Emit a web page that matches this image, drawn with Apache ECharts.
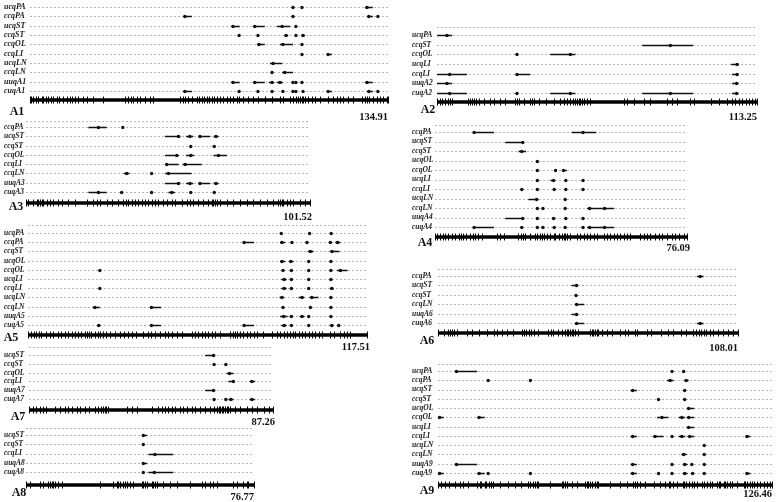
<!DOCTYPE html>
<html><head><meta charset="utf-8">
<script src="https://cdn.jsdelivr.net/npm/echarts@6/dist/echarts.min.js"></script>
<style>html,body{margin:0;padding:0;background:#fff}#c{width:778px;height:502px}</style>
</head><body><div id="c"></div>
<script>
// ---------------- DATA (cM) ----------------
const A1_length = 134.91;
const A1_rows = ['ucqPA','ccqPA','ucqST','ccqST','ccqOL','ccqLI','ucqLN','ccqLN','uuqA1','cuqA1'];
// [trait, start, peak, end]
const A1_qtl = [
 ['ucqPA',99.1,99.1,99.1],['ucqPA',102.5,102.5,102.5],['ucqPA',126.2,127.0,129.2],
 ['ccqPA',57.7,58.4,61.0],['ccqPA',99.1,99.1,99.1],['ccqPA',127.0,127.7,129.2],['ccqPA',131.1,131.1,131.1],
 ['ucqST',76.0,76.5,79.0],['ucqST',84.0,84.7,88.5],['ucqST',93.0,95.0,98.0],['ucqST',100.2,100.2,100.2],
 ['ccqST',78.8,78.8,78.8],['ccqST',85.9,85.9,85.9],['ccqST',95.8,96.5,97.3],['ccqST',100.2,100.2,100.2],['ccqST',102.2,102.9,103.6],
 ['ccqOL',85.5,86.3,88.5],['ccqOL',94.2,95.3,99.1],['ccqOL',102.5,102.5,102.5],
 ['ccqLI',102.5,102.5,102.5],['ccqLI',112.3,112.3,113.8],
 ['ucqLN',90.4,91.6,95.0],
 ['ccqLN',91.2,91.2,91.2],['ccqLN',95.0,96.0,99.1],
 ['uuqA1',76.0,76.5,79.0],['uuqA1',84.0,84.7,88.5],['uuqA1',90.0,91.2,92.0],['uuqA1',93.0,94.2,95.3],['uuqA1',99.1,99.1,99.1],['uuqA1',100.2,100.2,100.2],['uuqA1',102.5,102.5,102.5],['uuqA1',126.2,127.0,129.2],
 ['cuqA1',57.7,58.4,61.0],['cuqA1',78.8,78.8,78.8],['cuqA1',85.9,85.9,85.9],['cuqA1',91.2,91.2,91.2],['cuqA1',95.3,95.3,95.3],['cuqA1',99.1,99.1,99.1],['cuqA1',100.2,100.2,100.2],['cuqA1',102.9,102.9,102.9],['cuqA1',112.3,112.3,113.8],['cuqA1',127.0,127.7,129.2],['cuqA1',131.1,131.1,131.1]
];
const A1_markers = [0,0.3,1.3,2.3,3.1,4.4,5.0,6.0,6.9,7.8,8.8,10.1,11.1,12.6,13.8,15.1,15.7,17.0,18.2,19.8,21.4,23.6,27.6,35.8,37.1,38.1,38.9,40.2,41.5,43.3,45.2,46.5,56.5,57.5,58.4,59.7,60.9,62.8,63.8,64.7,65.6,66.6,67.6,68.5,69.3,70.4,71.6,72.9,74.1,75.4,76.6,77.9,78.9,80.4,82.3,84.2,85.8,88.6,91.1,94.2,95.5,98.0,99.2,100.3,101.1,101.8,102.4,103.0,103.6,104.9,106.2,107.4,109.3,112.4,114.3,115.6,116.8,118.1,120.0,121.9,125.0,126.3,126.9,127.9,129.4,130.7,131.9,133.2,134.4,134.91];

const A2_length = 113.25;
const A2_rows = ['ucqPA','ccqST','ccqOL','ucqLI','ccqLI','uuqA2','cuqA2'];
const A2_qtl = [
 ['ucqPA',0,3.5,5.3],
 ['ccqST',72.6,82.6,90.6],
 ['ccqOL',28.3,28.3,28.3],['ccqOL',40.1,47.2,49.0],
 ['ucqLI',104.1,106.2,106.8],
 ['ccqLI',0,4.5,10.6],['ccqLI',28.1,28.3,33.0],['ccqLI',104.4,106.2,106.8],
 ['uuqA2',0,3.5,5.3],['uuqA2',104.4,106.0,106.8],
 ['cuqA2',0,4.5,10.6],['cuqA2',28.3,28.3,28.3],['cuqA2',40.1,47.2,49.0],['cuqA2',72.6,82.6,90.6],['cuqA2',104.4,106.0,106.8]
];
const A2_markers = [0,0.9,1.8,3.0,3.8,4.5,5.3,10.9,11.6,12.4,13.2,13.9,14.8,16.5,18.9,20.1,22.4,24.2,27.7,28.3,28.9,30.7,33.0,33.6,34.2,36.0,38.4,41.3,43.7,44.8,46.0,47.2,48.1,49.0,49.6,50.2,50.7,51.3,51.9,53.1,54.3,66.1,67.3,69.6,73.2,75.5,81.4,83.2,85.0,89.7,90.9,96.8,99.7,102.7,104.4,105.6,106.8,108.0,109.2,110.3,111.5,112.5,113.25];

const A3_length = 101.52;
const A3_rows = ['ccqPA','ucqST','ccqST','ccqOL','ccqLI','ccqLN','uuqA3','cuqA3'];
const A3_qtl = [
 ['ccqPA',22.3,25.9,28.8],['ccqPA',34.6,34.6,34.6],
 ['ucqST',49.7,54.5,55.2],['ucqST',57.2,58.6,59.8],['ucqST',61.6,62.2,65.8],['ucqST',67.0,67.9,68.8],
 ['ccqST',58.9,58.9,58.9],['ccqST',67.3,67.3,67.3],
 ['ccqOL',49.7,53.9,54.5],['ccqOL',57.2,58.9,60.1],['ccqOL',67.0,68.8,71.8],
 ['ccqLI',49.7,50.3,54.5],['ccqLI',56.0,56.9,62.8],
 ['ccqLN',35.0,36.0,37.0],['ccqLN',44.9,44.9,44.9],['ccqLN',49.7,50.9,59.2],
 ['uuqA3',49.7,54.5,55.2],['uuqA3',57.2,58.6,59.8],['uuqA3',61.6,62.2,65.8],['uuqA3',67.0,67.9,68.8],
 ['cuqA3',22.3,25.9,28.8],['cuqA3',34.2,34.2,34.2],['cuqA3',44.9,44.9,44.9],['cuqA3',50.9,52.1,53.3],['cuqA3',58.9,58.9,58.9],['cuqA3',67.3,67.3,67.3]
];
const A3_markers = [0,0.8,2.6,3.8,4.4,5.0,5.6,6.2,7.4,8.6,9.8,11.6,12.8,15.1,17.5,21.7,24.1,25.3,26.5,28.8,30.6,33.0,34.8,35.8,36.6,37.8,39.0,40.2,41.4,42.6,43.7,44.9,46.1,47.3,49.1,50.3,52.1,53.3,55.7,57.5,58.6,59.8,61.6,63.4,65.2,66.4,67.0,67.6,68.2,69.4,71.8,74.1,76.5,78.9,81.3,83.7,86.1,88.4,90.2,90.8,91.4,92.0,93.2,94.4,95.6,98.0,99.8,101.52];

const A4_length = 76.09;
const A4_rows = ['ccqPA','ucqST','ccqST','ucqOL','ccqOL','ucqLI','ccqLI','ucqLN','ccqLN','uuqA4','cuqA4'];
const A4_qtl = [
 ['ccqPA',11.6,11.8,17.8],['ccqPA',41.3,44.7,48.6],
 ['ucqST',21.2,26.5,26.7],
 ['ccqST',25.2,26.2,27.5],
 ['ucqOL',30.9,30.9,30.9],
 ['ccqOL',30.9,30.9,30.9],['ccqOL',36.4,36.4,36.4],['ccqOL',38.3,38.8,39.8],
 ['ucqLI',30.9,30.9,30.9],['ucqLI',34.8,35.8,36.3],['ucqLI',39.5,39.5,39.5],['ucqLI',44.7,44.7,44.7],
 ['ccqLI',26.2,26.2,26.2],['ccqLI',30.9,30.9,30.9],['ccqLI',36.0,36.0,36.0],['ccqLI',39.5,39.5,39.5],['ccqLI',44.7,44.7,44.7],
 ['ucqLN',28.2,30.7,31.2],['ucqLN',39.3,39.3,39.3],
 ['ccqLN',30.9,30.9,30.9],['ccqLN',32.6,32.6,32.6],['ccqLN',39.3,39.3,39.3],['ccqLN',45.9,46.7,54.1],['ccqLN',51.2,51.2,51.2],
 ['uuqA4',21.2,26.5,26.7],['uuqA4',30.9,30.9,30.9],['uuqA4',35.3,35.8,36.3],['uuqA4',39.5,39.5,39.5],['uuqA4',44.7,44.7,44.7],
 ['cuqA4',11.6,11.8,17.8],['cuqA4',26.2,26.2,26.2],['cuqA4',30.9,30.9,30.9],['cuqA4',32.6,32.6,32.6],['cuqA4',36.0,36.0,36.0],['cuqA4',39.3,39.3,39.3],['cuqA4',44.7,44.7,44.7],['cuqA4',45.9,46.7,54.1],['cuqA4',51.2,51.2,51.2]
];
const A4_markers = [0,0.7,1.5,2.3,3.0,4.0,5.0,6.0,7.1,7.8,8.6,9.4,10.6,11.6,12.1,13.1,14.1,18.6,19.7,20.7,25.2,26.0,26.5,27.2,28.7,30.2,30.9,31.6,32.3,32.8,33.8,34.8,35.8,36.3,37.3,38.3,38.8,39.3,39.8,40.8,42.8,43.8,44.9,45.9,46.9,47.9,48.9,50.9,51.9,52.9,53.9,54.9,55.9,57.0,58.0,59.0,62.0,63.0,64.0,65.0,66.5,67.5,68.5,70.1,71.6,72.6,73.6,75.1,76.09];

const A5_length = 117.51;
const A5_rows = ['ucqPA','ccqPA','ccqST','ucqOL','ccqOL','ucqLI','ccqLI','ucqLN','ccqLN','uuqA5','cuqA5'];
const A5_qtl = [
 ['ucqPA',87.8,87.8,87.8],['ucqPA',97.6,97.6,97.6],['ucqPA',105.1,105.1,105.1],
 ['ccqPA',74.5,74.9,78.4],['ccqPA',87.4,88.0,89.2],['ccqPA',91.5,91.5,91.5],['ccqPA',96.7,96.7,96.7],['ccqPA',104.8,104.8,104.8],['ccqPA',106.5,107.3,108.3],
 ['ccqST',96.9,97.9,99.0],['ccqST',104.6,105.4,108.0],
 ['ucqOL',87.4,88.0,89.2],['ucqOL',90.4,91.1,92.1],['ucqOL',97.3,97.3,97.3],['ucqOL',105.0,105.0,105.0],
 ['ccqOL',24.9,24.9,24.9],['ccqOL',88.4,88.4,88.4],['ccqOL',91.3,91.3,91.3],['ccqOL',97.3,97.3,97.3],['ccqOL',105.0,105.0,105.0],['ccqOL',107.1,108.3,110.8],
 ['ucqLI',87.8,88.8,89.7],['ucqLI',91.3,91.3,91.3],['ucqLI',97.3,97.3,97.3],['ucqLI',105.0,105.0,105.0],
 ['ccqLI',24.9,24.9,24.9],['ccqLI',87.8,88.8,89.7],['ccqLI',91.3,91.3,91.3],['ccqLI',97.3,97.3,97.3],['ccqLI',104.6,105.3,106.0],
 ['ucqLN',87.2,88.0,88.8],['ucqLN',93.8,95.0,95.8],['ucqLN',97.6,98.4,100.7],['ucqLN',105.0,105.0,105.0],
 ['ccqLN',22.4,23.2,24.9],['ccqLN',42.3,42.8,46.1],['ccqLN',88.4,88.4,88.4],['ccqLN',97.9,97.9,97.9],['ccqLN',105.0,105.0,105.0],
 ['uuqA5',87.4,88.6,90.0],['uuqA5',91.3,91.3,91.3],['uuqA5',94.1,95.0,95.8],['uuqA5',97.3,97.3,97.3],['uuqA5',105.0,105.0,105.0],
 ['cuqA5',24.0,24.5,25.1],['cuqA5',42.3,42.8,46.1],['cuqA5',74.5,74.9,78.4],['cuqA5',87.8,88.8,89.7],['cuqA5',91.3,91.3,91.3],['cuqA5',97.3,97.3,97.3],['cuqA5',104.6,105.3,106.0],['cuqA5',107.7,107.7,107.7]
];
const A5_markers = [0,1.2,2.0,2.9,3.8,4.6,6.4,7.5,8.7,10.4,11.6,12.7,13.9,15.1,16.2,17.4,18.5,19.7,20.5,21.2,22.0,23.2,24.3,25.1,26.1,27.2,28.4,30.1,31.8,33.2,34.7,35.9,37.6,40.0,41.7,42.8,44.0,45.7,47.5,48.6,49.8,51.5,53.3,56.7,57.9,59.1,60.2,61.4,62.5,63.7,64.8,66.6,70.1,71.2,71.8,72.6,73.5,74.6,75.8,77.0,78.2,79.3,81.6,84.5,86.3,87.4,88.6,89.7,90.9,91.8,92.6,93.8,95.0,96.1,97.3,98.4,99.6,100.7,101.9,104.8,106.0,108.3,109.4,110.6,111.7,117.51];

const A6_length = 108.01;
const A6_rows = ['ccqPA','ucqST','ccqST','ccqLN','uuqA6','cuqA6'];
const A6_qtl = [
 ['ccqPA',93.2,94.4,95.6],
 ['ucqST',48.1,49.9,50.1],
 ['ccqST',49.7,49.7,49.7],
 ['ccqLN',49.3,49.9,52.7],
 ['uuqA6',48.1,49.9,50.1],
 ['cuqA6',49.3,49.9,52.7],['cuqA6',93.2,94.4,95.6]
];
const A6_markers = [0,2.0,3.5,4.2,5.0,5.9,6.8,10.4,12.2,14.6,17.6,20.0,21.2,23.0,24.8,26.9,30.2,30.8,31.7,32.6,33.4,34.4,36.1,39.7,40.6,41.5,43.3,44.5,45.7,46.3,46.9,47.5,48.1,48.7,49.3,50.5,54.7,55.3,55.9,56.5,57.1,57.7,58.9,60.7,62.5,65.5,67.3,68.5,70.9,71.5,75.1,76.8,80.4,82.8,84.6,87.6,89.4,91.8,93.0,94.0,94.8,95.6,96.6,97.8,99.0,100.8,102.6,104.4,106.2,108.01];

const A7_length = 87.26;
const A7_rows = ['ucqST','ccqST','ccqOL','ccqLI','uuqA7','cuqA7'];
const A7_qtl = [
 ['ucqST',63.0,66.0,66.6],
 ['ccqST',66.2,66.2,66.2],['ccqST',70.4,70.4,70.4],
 ['ccqOL',70.7,71.7,73.1],
 ['ccqLI',71.3,73.1,73.7],['ccqLI',78.9,79.7,80.9],
 ['uuqA7',63.0,66.0,66.6],
 ['cuqA7',66.2,66.2,66.2],['cuqA7',70.4,70.4,70.4],['cuqA7',71.3,72.2,73.1],['cuqA7',78.9,79.7,80.9]
];
const A7_markers = [0,1.4,2.6,3.8,5.0,6.2,9.2,11.0,12.8,14.0,15.2,17.0,18.2,20.0,21.5,23.5,24.7,25.9,26.5,27.1,27.7,28.3,34.9,36.7,38.5,43.9,46.2,47.4,48.6,49.8,51.0,52.2,54.0,55.2,56.4,58.2,59.4,61.2,63.0,64.8,66.0,67.2,67.8,68.4,69.0,69.5,70.1,70.7,71.3,71.9,73.7,75.5,77.9,79.7,81.5,83.9,85.7,87.26];

const A8_length = 76.77;
const A8_rows = ['ucqST','ccqST','ccqLI','uuqA8','cuqA8'];
const A8_qtl = [
 ['ucqST',39.3,39.5,40.8],
 ['ccqST',39.5,39.5,39.5],
 ['ccqLI',41.2,43.4,49.6],
 ['uuqA8',39.3,39.5,40.8],
 ['cuqA8',39.5,39.5,39.5],['cuqA8',41.2,43.2,49.6]
];
const A8_markers = [0,1.3,4.7,5.6,7.5,8.1,8.6,9.2,9.8,10.9,12.0,24.9,29.4,30.5,31.1,31.6,32.8,33.3,33.9,35.0,36.1,38.9,39.5,40.1,40.6,42.3,42.9,43.4,44.0,46.2,48.5,50.7,55.2,59.1,60.3,61.9,63.1,64.2,69.8,70.9,73.2,74.3,74.8,76.77];

const A9_length = 126.46;
const A9_rows = ['ucqPA','ccqPA','ucqST','ccqST','ucqOL','ccqOL','ucqLI','ccqLI','ucqLN','ccqLN','uuqA9','cuqA9'];
const A9_qtl = [
 ['ucqPA',6.3,7.0,14.8],['ucqPA',88.6,88.6,88.6],['ucqPA',93.0,93.0,93.0],
 ['ccqPA',19.0,19.0,19.0],['ccqPA',35.0,35.0,35.0],['ccqPA',86.7,87.9,89.2],['ccqPA',93.2,94.0,94.9],
 ['ucqST',73.0,73.7,75.3],['ucqST',93.4,93.4,93.4],
 ['ccqST',83.5,83.5,83.5],['ccqST',93.4,93.4,93.4],
 ['ucqOL',94.2,94.9,97.0],
 ['ccqOL',0,0.6,2.2],['ccqOL',14.8,15.6,17.7],['ccqOL',82.9,84.8,87.3],['ccqOL',91.1,92.3,93.6],['ccqOL',94.2,94.9,97.0],
 ['ucqLI',94.2,94.9,97.0],
 ['ccqLI',73.0,73.7,75.3],['ccqLI',81.3,82.2,85.4],['ccqLI',88.6,88.6,88.6],['ccqLI',91.1,92.3,93.6],['ccqLI',94.5,95.3,97.0],['ccqLI',116.4,117.0,118.3],
 ['ucqLN',100.8,100.8,100.8],
 ['ccqLN',92.1,93.0,94.2],['ccqLN',100.8,100.8,100.8],
 ['uuqA9',6.3,7.0,14.8],['uuqA9',73.0,73.7,75.3],['uuqA9',88.6,88.6,88.6],['uuqA9',92.7,93.4,94.5],['uuqA9',96.1,96.1,96.1],['uuqA9',100.8,100.8,100.8],
 ['cuqA9',0,0.6,2.2],['cuqA9',14.8,15.6,17.7],['cuqA9',19.0,19.0,19.0],['cuqA9',35.0,35.0,35.0],['cuqA9',73.0,73.7,75.3],['cuqA9',83.5,83.5,83.5],['cuqA9',88.6,88.6,88.6],['cuqA9',92.7,93.4,94.5],['cuqA9',96.4,96.4,96.4],['cuqA9',100.8,100.8,100.8],['cuqA9',116.4,117.0,118.3]
];
const A9_markers = [0,1.3,2.5,4.2,6.3,8.2,9.5,11.4,14.8,15.8,16.4,17.7,18.3,19.4,20.2,20.9,23.4,26.6,29.1,31.6,34.2,34.8,35.8,36.7,37.3,37.9,42.4,46.8,47.4,48.1,48.7,50.6,52.5,55.7,56.3,56.9,57.6,58.2,59.5,60.1,60.7,65.1,68.9,71.5,74.0,74.6,75.3,76.5,78.4,81.6,84.1,86.0,87.3,87.9,88.9,90.4,92.7,93.2,94.0,94.9,96.1,97.0,98.0,99.9,100.8,101.8,102.8,103.7,105.6,106.3,106.9,108.2,108.8,109.4,110.4,111.3,113.2,115.7,116.4,117.0,118.0,118.9,119.8,120.8,122.1,123.3,124.6,125.8,126.46];

// ---------------- LAYOUT (pixels) ----------------
const panels = [
 {name:'A1', len:A1_length, rows:A1_rows, qtl:A1_qtl, markers:A1_markers, lay:{x0:30,x1:388,yFirst:7,yLast:91,topGap:0,yChr:100,nameX:17,nameY:112,lenX:388,lenY:117,labelLeft:4,labelSize:8}},
 {name:'A2', len:A2_length, rows:A2_rows, qtl:A2_qtl, markers:A2_markers, lay:{x0:437,x1:757,yFirst:35,yLast:93,topGap:8,yChr:102,nameX:428,nameY:110,lenX:757,lenY:117,labelLeft:412,labelSize:7.5}},
 {name:'A3', len:A3_length, rows:A3_rows, qtl:A3_qtl, markers:A3_markers, lay:{x0:26,x1:310,yFirst:127,yLast:192,topGap:6,yChr:203,nameX:16,nameY:207,lenX:312,lenY:217,labelLeft:4,labelSize:7.5}},
 {name:'A4', len:A4_length, rows:A4_rows, qtl:A4_qtl, markers:A4_markers, lay:{x0:435,x1:687,yFirst:132,yLast:227,topGap:7,yChr:237,nameX:425,nameY:243,lenX:690,lenY:248,labelLeft:412,labelSize:7.5}},
 {name:'A5', len:A5_length, rows:A5_rows, qtl:A5_qtl, markers:A5_markers, lay:{x0:28,x1:367,yFirst:233,yLast:325,topGap:8,yChr:335,nameX:11,nameY:338,lenX:370,lenY:347,labelLeft:4,labelSize:7.5}},
 {name:'A6', len:A6_length, rows:A6_rows, qtl:A6_qtl, markers:A6_markers, lay:{x0:438,x1:738,yFirst:276,yLast:323,topGap:7,yChr:333,nameX:427,nameY:341,lenX:738,lenY:348,labelLeft:412,labelSize:7.5}},
 {name:'A7', len:A7_length, rows:A7_rows, qtl:A7_qtl, markers:A7_markers, lay:{x0:29,x1:273,yFirst:355,yLast:399,topGap:8,yChr:410,nameX:18,nameY:417,lenX:275,lenY:422,labelLeft:4,labelSize:7.5}},
 {name:'A8', len:A8_length, rows:A8_rows, qtl:A8_qtl, markers:A8_markers, lay:{x0:26,x1:254,yFirst:435,yLast:472,topGap:7,yChr:485,nameX:19,nameY:493,lenX:254,lenY:497,labelLeft:4,labelSize:7.5}},
 {name:'A9', len:A9_length, rows:A9_rows, qtl:A9_qtl, markers:A9_markers, lay:{x0:438,x1:772,yFirst:371,yLast:473,topGap:7,yChr:485,nameX:427,nameY:491,lenX:772,lenY:494,labelLeft:412,labelSize:7.5}}
];

const SERIF = "'Liberation Serif', 'DejaVu Serif', serif";
const grid = [], xAxis = [], yAxis = [], series = [], graphic = [];

panels.forEach((p, i) => {
  const L = p.lay;
  const last = p.rows.length - 1;
  grid.push({left:L.x0, top:L.yFirst, width:L.x1 - L.x0, height:L.yLast - L.yFirst});
  xAxis.push({gridIndex:i, type:'value', min:0, max:p.len, show:false});
  yAxis.push({gridIndex:i, type:'category', data:p.rows, inverse:true, boundaryGap:false,
    axisLine:{show:false}, axisTick:{show:false}, splitLine:{show:false},
    axisLabel:{interval:0, align:'left', margin:L.x0 - L.labelLeft, fontFamily:SERIF,
      fontStyle:'italic', fontWeight:'bold', fontSize:L.labelSize, color:'#222'}});

  // dotted row lines
  series.push({type:'custom', xAxisIndex:i, yAxisIndex:i, silent:true, animation:false, z:1,
    data:p.rows.map((r, k) => [0, k]),
    renderItem:(params, api) => {
      const k = api.value(1);
      const a = api.coord([0, k]), b = api.coord([p.len, k]);
      const st = {stroke:'#b5b5b5', lineWidth:1, lineDash:[2,2]};
      const ch = [{type:'line', shape:{x1:a[0], y1:Math.round(a[1])+0.5, x2:b[0], y2:Math.round(a[1])+0.5}, style:st}];
      if (k === 0 && L.topGap > 0) {
        const yt = Math.round(a[1] - L.topGap) + 0.5;
        ch.push({type:'line', shape:{x1:a[0], y1:yt, x2:b[0], y2:yt}, style:st});
      }
      return {type:'group', children:ch};
    }});

  // chromosome bar
  series.push({type:'custom', xAxisIndex:i, yAxisIndex:i, silent:true, animation:false, z:2,
    data:[[0, last]],
    renderItem:(params, api) => {
      const a = api.coord([0, last]), b = api.coord([p.len, last]);
      const y = a[1] + (L.yChr - L.yLast);
      return {type:'line', shape:{x1:a[0], y1:y, x2:b[0], y2:y}, style:{stroke:'#000', lineWidth:3.5}};
    }});

  // marker ticks
  series.push({type:'custom', xAxisIndex:i, yAxisIndex:i, silent:true, animation:false, z:3,
    data:p.markers.map(m => [m, last]),
    renderItem:(params, api) => {
      const a = api.coord([api.value(0), last]);
      const x = Math.round(a[0]) + 0.5;
      const y = a[1] + (L.yChr - L.yLast);
      return {type:'line', shape:{x1:x, y1:y - 3.5, x2:x, y2:y + 3.5}, style:{stroke:'#000', lineWidth:1}};
    }});

  // QTL intervals with peaks
  series.push({type:'custom', xAxisIndex:i, yAxisIndex:i, silent:true, animation:false, z:4,
    data:p.qtl.map(q => [q[1], p.rows.indexOf(q[0]), q[2], q[3]]),
    renderItem:(params, api) => {
      const r = api.value(1);
      const s = api.coord([api.value(0), r]);
      const pk = api.coord([api.value(2), r]);
      const e = api.coord([api.value(3), r]);
      const y = Math.round(s[1]) + 0.5;
      const ch = [];
      if (e[0] - s[0] > 0.8) {
        ch.push({type:'line', shape:{x1:s[0], y1:y, x2:e[0], y2:y}, style:{stroke:'#111', lineWidth:1.5}});
      }
      ch.push({type:'circle', shape:{cx:pk[0], cy:y, r:1.7}, style:{fill:'#111'}});
      return {type:'group', children:ch};
    }});

  graphic.push({type:'text', silent:true, style:{text:p.name, x:L.nameX, y:L.nameY, fill:'#111',
    font:"bold 12px " + SERIF, textAlign:'center', textVerticalAlign:'middle'}});
  graphic.push({type:'text', silent:true, style:{text:p.len.toFixed(2), x:L.lenX, y:L.lenY, fill:'#111',
    font:"bold 10.5px " + SERIF, textAlign:'right', textVerticalAlign:'middle'}});
});

const chart = echarts.init(document.getElementById('c'), null, {renderer:'canvas'});
chart.setOption({
  backgroundColor:'#fff', animation:false,
  textStyle:{fontFamily:SERIF},
  grid, xAxis, yAxis, series, graphic
});
</script>
</body></html>
